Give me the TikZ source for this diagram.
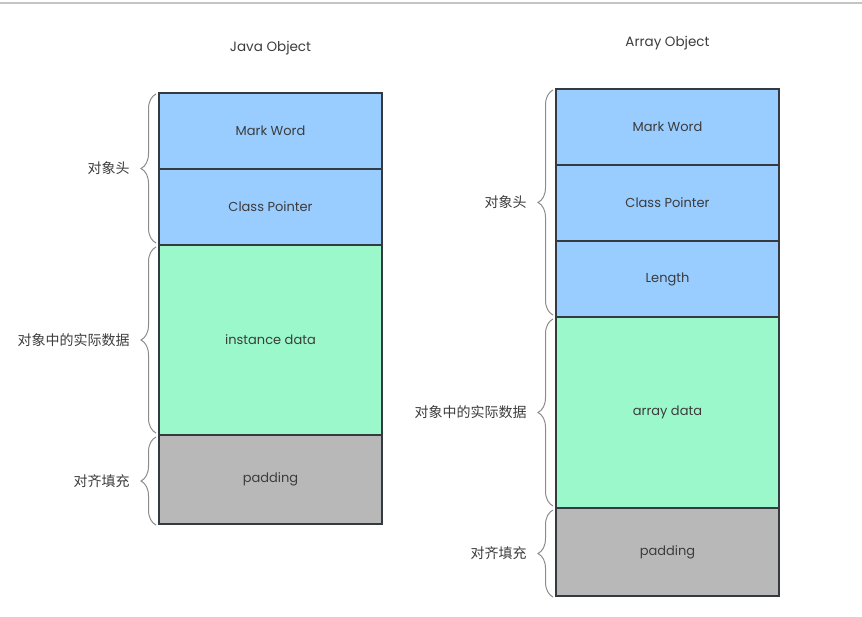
\documentclass[tikz,border=0pt]{standalone}
\usepackage{fontspec}
\setmainfont{Poppins}
\newfontfamily\cjk{Noto Sans CJK SC}
\usepackage{tikz}
\usetikzlibrary{positioning,decorations.pathreplacing}
\definecolor{hdrblue}{HTML}{99CCFF}
\definecolor{datagreen}{HTML}{9AF8CB}
\definecolor{padgray}{HTML}{B8B8B8}
\definecolor{edgegray}{HTML}{343A40}
\definecolor{txtgray}{HTML}{3C3C3C}
\definecolor{bracegray}{HTML}{8C8C8C}
\definecolor{rulegray}{HTML}{C4C4C4}
\tikzset{
  slot/.style={draw=edgegray, line width=1.5pt, minimum width=\cellw pt,
    inner sep=0pt, outer sep=0pt, text=txtgray,
    font=\fontsize{13}{15}\selectfont},
  hdr/.style={slot, fill=hdrblue},
  body/.style={slot, fill=datagreen},
  pad/.style={slot, fill=padgray},
  title/.style={text=txtgray, font=\fontsize{13.5}{15}\selectfont},
  grp/.style={draw=bracegray, line width=1pt, decorate,
    decoration={brace, amplitude=15pt}},
  tag/.style={inner sep=0pt, text=txtgray, font=\cjk\fontsize{14}{16}\selectfont}
}
\begin{document}
\begin{tikzpicture}[x=1pt,y=-1pt]
    \pgfmathsetmacro{\cellw}{223}
    \pgfmathsetmacro{\rowh}{76}
    \pgfmathsetmacro{\gap}{3}
    \useasboundingbox (0,0) rectangle (862,616);
    \draw[line width=2pt, draw=rulegray] (0,3)--(862,3);
    \node[hdr, minimum height=\rowh pt, anchor=north west] (jmark) at (159,93) {Mark Word};
    \node[hdr, minimum height=\rowh pt, below=0pt of jmark] (jcls) {Class Pointer};
    \node[body, minimum height=190pt, below=0pt of jcls] (jinst) {instance data};
    \node[pad, minimum height=89pt, below=0pt of jinst] (jpad) {padding};
    \node[title] (jtitle) at ([yshift=45pt]jmark.north) {Java Object};
    \draw[grp] ([xshift=-\gap pt, yshift=2pt]jcls.south west)--%
    node[tag, left=26pt] (jhdrtag) {对象头} ([xshift=-\gap pt, yshift=-1pt]jmark.north west);
    \draw[grp] ([xshift=-\gap pt, yshift=2pt]jinst.south west)--%
    node[tag, left=26pt] (jbodytag) {对象中的实际数据} ([xshift=-\gap pt, yshift=-2pt]jinst.north west);
    \draw[grp] ([xshift=-\gap pt, yshift=-1pt]jpad.south west)--%
    node[tag, left=26pt] (jpadtag) {对齐填充} ([xshift=-\gap pt, yshift=-2pt]jpad.north west);
    \node[hdr, minimum height=\rowh pt, anchor=north west] (amark) at (556,89) {Mark Word};
    \node[hdr, minimum height=\rowh pt, below=0pt of amark] (acls) {Class Pointer};
    \node[hdr, minimum height=\rowh pt, below=0pt of acls] (alen) {Length};
    \node[body, minimum height=191pt, below=0pt of alen] (aarr) {array data};
    \node[pad, minimum height=88pt, below=0pt of aarr] (apad) {padding};
    \node[title] (atitle) at ([yshift=46pt]amark.north) {Array Object};
    \draw[grp] ([xshift=-\gap pt, yshift=2pt]alen.south west)--%
    node[tag, left=26pt] (ahdrtag) {对象头} ([xshift=-\gap pt, yshift=-1pt]amark.north west);
    \draw[grp] ([xshift=-\gap pt, yshift=2pt]aarr.south west)--%
    node[tag, left=26pt] (abodytag) {对象中的实际数据} ([xshift=-\gap pt, yshift=-2pt]aarr.north west);
    \draw[grp] ([xshift=-\gap pt, yshift=-1pt]apad.south west)--%
    node[tag, left=26pt] (apadtag) {对齐填充} ([xshift=-\gap pt, yshift=-2pt]apad.north west);
  \end{tikzpicture}
\end{document}
